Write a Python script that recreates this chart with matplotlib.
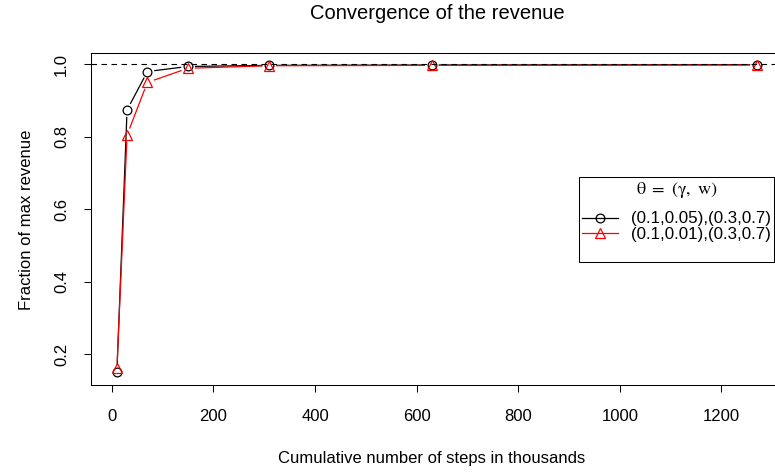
import numpy as np
import matplotlib
matplotlib.use("Agg")
import matplotlib.pyplot as plt
from matplotlib.lines import Line2D

plt.rcParams["font.family"] = ["Liberation Sans", "DejaVu Sans"]
plt.rcParams["mathtext.fontset"] = "stix"

# data
steps = [10, 30, 70, 150, 310, 630, 1270]
rev_a = [0.151, 0.874, 0.980, 0.994, 0.997, 0.998, 0.999]
rev_b = [0.161, 0.805, 0.950, 0.989, 0.996, 0.997, 0.998]
labels = ["(0.1,0.05),(0.3,0.7)", "(0.1,0.01),(0.3,0.7)"]
xticks = [0, 200, 400, 600, 800, 1000, 1200]
yticks = [0.2, 0.4, 0.6, 0.8, 1.0]

W, H = 775, 472
fig = plt.figure(figsize=(W / 100, H / 100), dpi=100)
# R-like plot region (right edge falls outside the picture)
ax = fig.add_axes([91.3 / W, 87 / H, 691.3 / W, 331.7 / H])
ax.set_xlim(-40.4, 1320.4)
ax.set_ylim(0.1153, 1.0303)


def type_b(ax, x, y, color, marker, ms, gap=7.5):
    # R type="b": line segments with gaps around the points
    pts = ax.transData.transform(np.column_stack([x, y]))
    inv = ax.transData.inverted()
    xs, ys = [], []
    for p, q in zip(pts[:-1], pts[1:]):
        d = q - p
        L = np.hypot(d[0], d[1])
        if L <= 2 * gap:
            continue
        u = d / L
        a = inv.transform(p + u * gap)
        b = inv.transform(q - u * gap)
        xs += [a[0], b[0], np.nan]
        ys += [a[1], b[1], np.nan]
    ax.plot(xs, ys, color=color, lw=0.9)
    ax.plot(x, y, ls="none", marker=marker, ms=ms, mfc="none", mec=color, mew=0.9)


type_b(ax, steps, rev_a, "black", "o", 6.3)
type_b(ax, steps, rev_b, "#FF0000", "^", 7.8)
ax.axhline(1.0, color="black", lw=0.8, ls=(0, (5, 4)))

ax.set_xticks(xticks)
ax.set_yticks(yticks)
ax.set_yticklabels(["0.2", "0.4", "0.6", "0.8", "1.0"])
ax.tick_params(axis="both", direction="out", length=5, width=0.75, labelsize=12)
ax.tick_params(axis="x", pad=12)
ax.tick_params(axis="y", pad=11, labelrotation=90)
for lab in ax.get_yticklabels():
    lab.set_va("center")
for s in ax.spines.values():
    s.set_linewidth(0.75)

ax.set_xlabel("Cumulative number of steps in thousands", fontsize=12)
ax.xaxis.set_label_coords((432 - 91.3) / 691.3, (472 - 458 - 87) / 331.7)
ax.xaxis.label.set_va("center")
ax.set_ylabel("Fraction of max revenue", fontsize=12)
ax.yaxis.set_label_coords((27 - 91.3) / 691.3, (472 - 220 - 87) / 331.7)
ax.yaxis.label.set_va("center")

ax.set_title("Convergence of the revenue", fontsize=14.5, va="center",
             y=1 + (53.3 - 13) / 331.7, pad=0)

handles = [
    Line2D([], [], color="black", lw=0.9, marker="o", ms=6.3, mfc="none", mew=0.9),
    Line2D([], [], color="#FF0000", lw=0.9, marker="^", ms=7.8, mfc="none", mew=0.9),
    Line2D([], [], ls="none"),
]
leg = ax.legend(handles, labels + [" "],
                title=r"$\mathrm{\theta}\ =\ \left(\mathrm{\gamma},\ \mathrm{w}\right)$",
                loc="upper left", bbox_to_anchor=(579 / W, (H - 177) / H),
                bbox_transform=fig.transFigure, borderaxespad=0,
                fancybox=False, framealpha=1, edgecolor="black",
                fontsize=12.2, title_fontsize=13, handlelength=2.1,
                handletextpad=0.75, borderpad=0.2, labelspacing=0.05)
leg.get_frame().set_linewidth(0.75)
leg._legend_box.sep = 8

fig.savefig("out.png", dpi=100)
